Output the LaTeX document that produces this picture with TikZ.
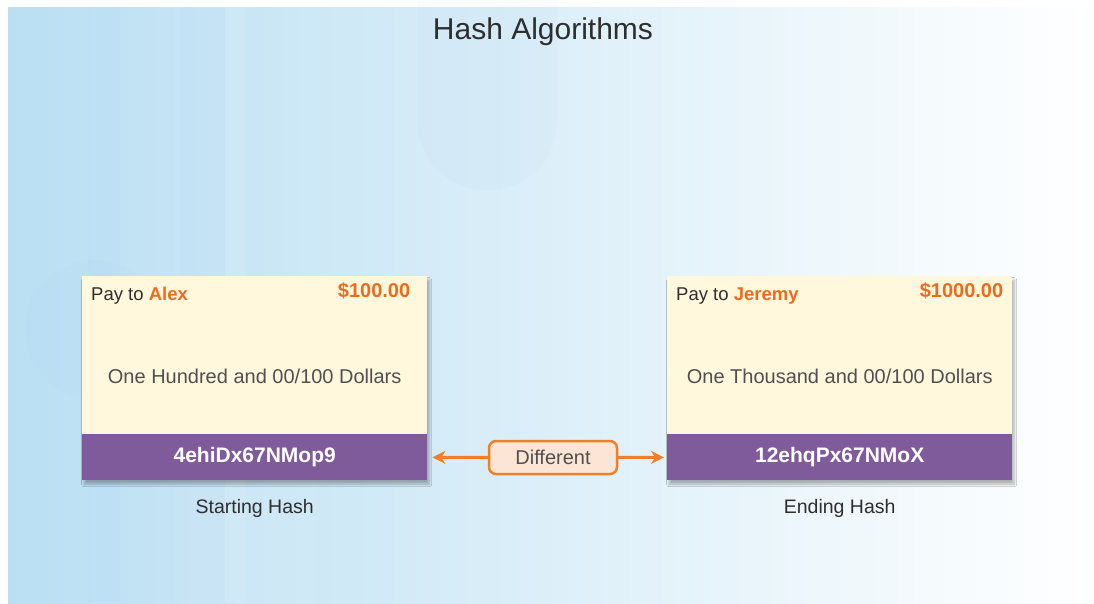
\documentclass[tikz,border=0pt]{standalone}
\usepackage{fontspec}
\setmainfont{Liberation Sans}
\usetikzlibrary{arrows.meta,positioning,shadows.blur}
\definecolor{bgleft}{HTML}{BADFF3}
\definecolor{bgmid}{HTML}{D6EBF7}
\definecolor{cheque}{HTML}{FFF8DC}
\definecolor{hashbar}{HTML}{7F5B9C}
\definecolor{payee}{HTML}{F06A1E}
\definecolor{arroworange}{HTML}{F07F2B}
\definecolor{difffill}{HTML}{FCE5D4}
\definecolor{ink}{HTML}{2E2E2E}
\definecolor{softink}{HTML}{505050}
\newcommand{\cardsize}{\fontsize{18.5}{22}\selectfont}
\newcommand{\wordsize}{\fontsize{20}{24}\selectfont}
\tikzset{
  chequebody/.style={fill=cheque,minimum width=345,minimum height=204,inner sep=0pt,
    blur shadow={shadow xshift=2pt,shadow yshift=-4pt,shadow opacity=30,shadow blur steps=8,shadow blur radius=2.5pt}},
  hashstrip/.style={fill=hashbar,minimum width=345,minimum height=46,inner sep=0pt,
    text=white,font=\fontsize{21}{24}\selectfont\bfseries},
  chequetext/.style={font=\cardsize,text=ink,inner sep=0pt},
  caption/.style={font=\fontsize{19.5}{23}\selectfont,text=ink},
  diffbox/.style={draw=arroworange,fill=difffill,line width=2.5pt,rounded corners=7pt,
    minimum width=128,minimum height=33,font=\wordsize,text=softink}
}
\begin{document}
\begin{tikzpicture}[x=1pt,y=-1pt,line cap=round,line join=round,>={Stealth[length=13pt,width=13pt]}]
	\useasboundingbox (0,0) rectangle (1094,603);
	\shade[left color=bgleft,middle color=bgmid,right color=white] (8,7) rectangle (1094,603);
	\fill[white,opacity=.10] (225,7) rectangle (245,603);
	\fill[bgleft!80!blue,opacity=.03] (88,7) rectangle (120,603);
	\fill[bgleft!80!blue,opacity=.03] (180,7) rectangle (225,603);
	\fill[bgleft!85!blue,opacity=.05,rounded corners=68pt] (418,-150) rectangle (557,190);
	\fill[bgleft!85!blue,opacity=.05] (95,330) circle (70);
	\fill[white,opacity=.07,rounded corners=68pt] (180,420) rectangle (315,760);
	\node[font=\fontsize{30}{35}\selectfont,text=ink] (title) at (543,32) {Hash Algorithms};
	\node[chequebody,anchor=north west] (alexcard) at (82,276) {};
	\node[hashstrip,anchor=south] (alexhash) at (alexcard.south) {4ehiDx67NMop9};
	\node[chequebody,anchor=north west] (jeremycard) at (667,276) {};
	\node[hashstrip,anchor=south] (jeremyhash) at (jeremycard.south) {12ehqPx67NMoX};
	\node[chequetext,anchor=base west] (alexpay) at ([xshift=9pt,yshift=-24pt]alexcard.north west) {Pay to \textcolor{payee}{\bfseries Alex}};
	\node[chequetext,anchor=base east,text=payee,font=\wordsize\bfseries] (alexsum) at ([xshift=-17pt,yshift=-21pt]alexcard.north east) {\$100.00};
	\node[chequetext,text=softink,font=\wordsize] (alexwords) at ([yshift=2pt]alexcard.center) {One Hundred and 00/100 Dollars};
	\node[chequetext,anchor=base west] (jeremypay) at ([xshift=9pt,yshift=-24pt]jeremycard.north west) {Pay to \textcolor{payee}{\bfseries Jeremy}};
	\node[chequetext,anchor=base east,text=payee,font=\wordsize\bfseries] (jeremysum) at ([xshift=-9pt,yshift=-21pt]jeremycard.north east) {\$1000.00};
	\node[chequetext,text=softink,font=\wordsize] (jeremywords) at ([yshift=2pt]jeremycard.center) {One Thousand and 00/100 Dollars};
	\node[caption,below=15pt of alexhash] (start) {Starting Hash};
	\node[caption,below=15pt of jeremyhash] (end) {Ending Hash};
	\node[diffbox] (diff) at (553,457.5) {Different};
	\draw[->,color=arroworange,line width=3pt,shorten >=5pt] (diff) -- (alexhash);
	\draw[->,color=arroworange,line width=3pt,shorten >=3pt] (diff) -- (jeremyhash);
\end{tikzpicture}
\end{document}
